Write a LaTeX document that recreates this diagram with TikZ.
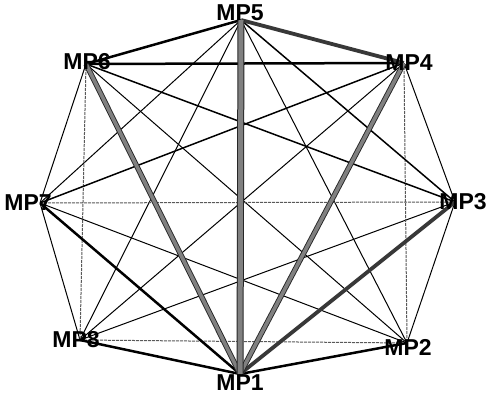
\documentclass[tikz,border=0pt]{standalone}
\usepackage{fontspec}
\setmainfont{Liberation Sans}
\usetikzlibrary{backgrounds}
\tikzset{
  vert/.style={circle,inner sep=0pt,minimum size=0pt},
  lab/.style={font=\bfseries\fontsize{23}{23}\selectfont,inner sep=0pt,text=black},
  huge edge/.style={line width=1pt,draw=black!85,double=black!50,double distance=5pt},
  heavy edge/.style={line width=0.9pt,draw=black!85,double=black!50,double distance=3.6pt},
  dark edge/.style={line width=3.8pt,draw=black!78},
  med edge/.style={line width=2.5pt,draw=black},
  mid edge/.style={line width=1.5pt,draw=black},
  thin edge/.style={line width=1pt,draw=black},
  faint edge/.style={line width=1pt,draw=black!65,dash pattern=on 3pt off 1pt},
}
\begin{document}
\begin{tikzpicture}[x=1pt,y=-1pt]
\useasboundingbox (0,0) rectangle (487,396);
\node[vert,label={[lab,xshift=-1pt,yshift=7pt]center:MP5}] (p5) at (241,20) {};
\node[vert,label={[lab,xshift=5pt,yshift=0pt]center:MP4}] (p4) at (404,63) {};
\node[vert,label={[lab,xshift=8pt,yshift=0pt]center:MP3}] (p3) at (455,202) {};
\node[vert,label={[lab,xshift=1pt,yshift=-4pt]center:MP2}] (p2) at (407,343) {};
\node[vert,label={[lab,xshift=0pt,yshift=-8.5pt]center:MP1}] (p1) at (240,374) {};
\node[vert,label={[lab,xshift=-4pt,yshift=0pt]center:MP8}] (p8) at (80,340) {};
\node[vert,label={[lab,xshift=-12pt,yshift=0pt]center:MP7}] (p7) at (40,203) {};
\node[vert,label={[lab,xshift=1pt,yshift=2pt]center:MP6}] (p6) at (86,64) {};
\begin{pgfonlayer}{background}
\fill[white] (0,0) rectangle (487,396);
% thin edges
\draw[thin edge] (p5) -- (p7);
\draw[thin edge] (p5) -- (p8);
\draw[thin edge] (p5) -- (p2);
\draw[thin edge] (p6) -- (p7);
\draw[thin edge] (p6) -- (p2);
\draw[thin edge] (p4) -- (p3);
\draw[thin edge] (p4) -- (p8);
\draw[thin edge] (p3) -- (p2);
\draw[thin edge] (p7) -- (p2);
\draw[thin edge] (p8) -- (p3);
\draw[thin edge] (p7) -- (p8);
% faint edges
\draw[faint edge] (p6) -- (p8);
\draw[faint edge] (p4) -- (p2);
\draw[faint edge] (p7) -- (p3);
\draw[faint edge] (p8) -- (p2);
% mid edges
\draw[mid edge] (p4) -- (p7);
\draw[mid edge] (p5) -- (p3);
\draw[mid edge] (p6) -- (p3);
% medium edges
\draw[med edge] (p5) -- (p6);
\draw[med edge] (p6) -- (p4);
\draw[med edge] (p7) -- (p1);
\draw[med edge] (p8) -- (p1);
\draw[med edge] (p2) -- (p1);
% dark edges
\draw[dark edge] (p5) -- (p4);
\draw[dark edge] (p3) -- (p1);
% heavy edges
\draw[heavy edge] (p6) -- (p1);
\draw[heavy edge] (p4) -- (p1);
\draw[huge edge] (p5) -- (p1);
\end{pgfonlayer}
\end{tikzpicture}
\end{document}
